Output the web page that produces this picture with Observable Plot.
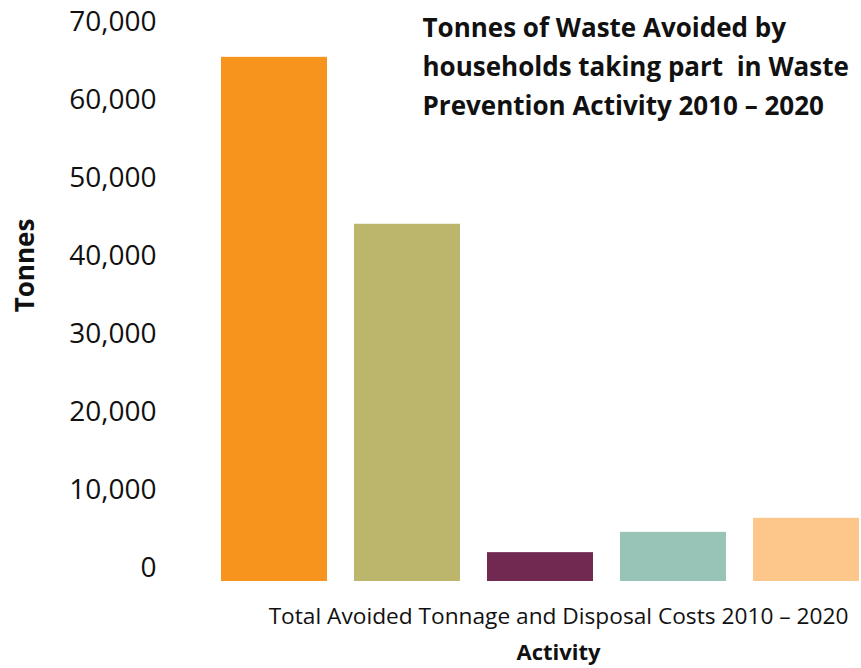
<!DOCTYPE html>
<html>
<head>
<meta charset="utf-8">
<script src="https://cdn.jsdelivr.net/npm/d3@7"></script>
<script src="https://cdn.jsdelivr.net/npm/@observablehq/plot@0.6"></script>
<style>
  html, body { margin: 0; padding: 0; background: #fff; }
  #chart { width: 861px; height: 668px; }
</style>
</head>
<body>
<div id="chart"></div>
<script>
// Data
const series = ["Series 1", "Series 2", "Series 3", "Series 4", "Series 5"];
const tonnes = [67200, 45800, 3700, 6300, 8100];
const colors = ["#F7941E", "#BCB66C", "#722951", "#97C4B6", "#FDC68A"];
const yTicks = [0, 10000, 20000, 30000, 40000, 50000, 60000, 70000];
const titleText = "Tonnes of Waste Avoided by\nhouseholds taking part  in Waste\nPrevention Activity 2010 – 2020";
const categoryLabel = "Total Avoided Tonnage and Disposal Costs 2010 – 2020";
const xLabel = "Activity";
const yLabel = "Tonnes";

const data = series.map((s, i) => ({series: s, value: tonnes[i]}));
const FONT = "'Open Sans', sans-serif";

const chart = Plot.plot({
  width: 861,
  height: 668,
  marginTop: 35,
  marginBottom: 87,
  marginLeft: 220,
  marginRight: 2,
  style: {fontFamily: FONT, color: "#111", background: "#fff"},
  x: {domain: series, paddingInner: 0.2045, paddingOuter: 0, axis: null},
  y: {domain: [0, 70000]},
  color: {domain: series, range: colors},
  marks: [
    Plot.barY(data, {x: "series", y: "value", fill: "series"}),
    Plot.axisY({
      ticks: yTicks, tickSize: 0, tickPadding: 64,
      tickFormat: d3.format(","), fontSize: 28, dy: -13, label: null
    }),
    Plot.text([titleText], {
      frameAnchor: "top-left", textAnchor: "start", lineAnchor: "top",
      dx: 202, dy: -26, fontSize: 26, fontWeight: "bold", lineHeight: 1.5, fill: "#111"
    }),
    Plot.text([yLabel], {
      frameAnchor: "left", textAnchor: "middle", rotate: -90,
      dx: -195, dy: -43, fontSize: 26, fontWeight: "bold", fill: "#111"
    }),
    Plot.text([categoryLabel], {
      frameAnchor: "bottom", textAnchor: "middle", lineAnchor: "top",
      dx: 18.5, dy: 26, fontSize: 22.7, fill: "#111"
    }),
    Plot.text([xLabel], {
      frameAnchor: "bottom", textAnchor: "middle", lineAnchor: "top",
      dx: 18.5, dy: 63, fontSize: 22, fontWeight: "bold", fill: "#111"
    })
  ]
});
document.getElementById("chart").appendChild(chart);
</script>
</body>
</html>
